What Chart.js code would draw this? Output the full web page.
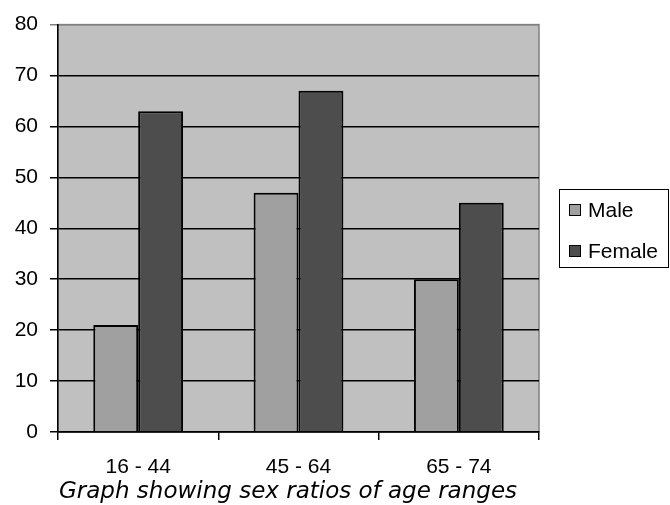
<!DOCTYPE html>
<html>
<head>
<meta charset="utf-8">
<script src="https://cdn.jsdelivr.net/npm/chart.js@4"></script>
<style>
  body { margin: 0; background: #fff; }
  #wrap { width: 670px; height: 505px; }
</style>
</head>
<body>
<div id="wrap"><canvas id="sexChart" width="670" height="505"></canvas></div>
<script>
const ageRanges = ["16 - 44", "45 - 64", "65 - 74"];
const maleValues = [21, 47, 30];
const femaleValues = [63, 67, 45];
const yTicks = [0, 10, 20, 30, 40, 50, 60, 70, 80];
const chartTitle = "Graph showing sex ratios of age ranges";

const tickFont = { family: "'Liberation Sans', Arial, sans-serif", size: 21 };

// grey plot background with grey frame (top + right)
const plotFrame = {
    id: "plotFrame",
    beforeDraw(chart) {
        const { ctx, chartArea: a } = chart;
        ctx.save();
        ctx.fillStyle = "#c0c0c0";
        ctx.fillRect(a.left, a.top, a.right - a.left, a.bottom - a.top);
        ctx.strokeStyle = "#808080";
        ctx.lineWidth = 1.5;
        ctx.strokeRect(a.left, a.top, a.right - a.left, a.bottom - a.top);
        ctx.restore();
    }
};

// excel style boxed legend + caption under the chart
const boxLegend = {
    id: "boxLegend",
    afterDraw(chart) {
        const ctx = chart.ctx;
        const sets = chart.data.datasets;
        ctx.save();
        ctx.strokeStyle = "#000";
        ctx.lineWidth = 1;
        ctx.strokeRect(559.5, 189.5, 109, 78);
        ctx.font = "21px 'Liberation Sans', Arial, sans-serif";
        ctx.textBaseline = "middle";
        sets.forEach((ds, i) => {
            const y = 210 + i * 41;
            ctx.fillStyle = ds.backgroundColor;
            ctx.fillRect(569, y - 6, 12, 12);
            ctx.strokeRect(569.5, y - 5.5, 11, 11);
            ctx.fillStyle = "#000";
            ctx.fillText(ds.label, 588, y + 1);
        });

        ctx.font = "italic 23px 'DejaVu Sans', sans-serif";
        ctx.textAlign = "center";
        ctx.textBaseline = "alphabetic";
        ctx.fillText(chartTitle, 288, 498);
        ctx.restore();
    }
};

new Chart(document.getElementById("sexChart"), {
    type: "bar",
    data: {
        labels: ageRanges,
        datasets: [
            { label: "Male", data: maleValues, backgroundColor: "#a0a0a0", borderColor: "#000", borderWidth: 2 },
            { label: "Female", data: femaleValues, backgroundColor: "#4d4d4d", borderColor: "#000", borderWidth: 2 }
        ]
    },
    options: {
        responsive: false,
        animation: false,
        layout: { padding: { top: 23, right: 131, left: 0, bottom: 0 } },
        datasets: { bar: { categoryPercentage: 0.56, barPercentage: 1.0 } },
        plugins: {
            legend: { display: false },
            title: { display: false },
            tooltip: { enabled: false }
        },
        scales: {
            x: {
                grid: { offset: true, drawOnChartArea: false, color: "#000", lineWidth: 1.5, tickLength: 8 },
                border: { color: "#000", width: 1.5 },
                ticks: { color: "#000", font: tickFont, padding: 15 },
                afterFit(scale) { scale.height = 73; }
            },
            y: {
                min: 0,
                max: 80,
                afterBuildTicks(scale) { scale.ticks = yTicks.map(v => ({ value: v })); },
                grid: {
                    color: ctx => (ctx.tick && ctx.tick.value === 80 ? "#808080" : "#000"),
                    lineWidth: 1.5,
                    tickLength: 8
                },
                border: { color: "#000", width: 1.5 },
                ticks: { color: "#000", font: tickFont, padding: 12 },
                afterFit(scale) { scale.width = 58; }
            }
        }
    },
    plugins: [plotFrame, boxLegend]
});
</script>
</body>
</html>
